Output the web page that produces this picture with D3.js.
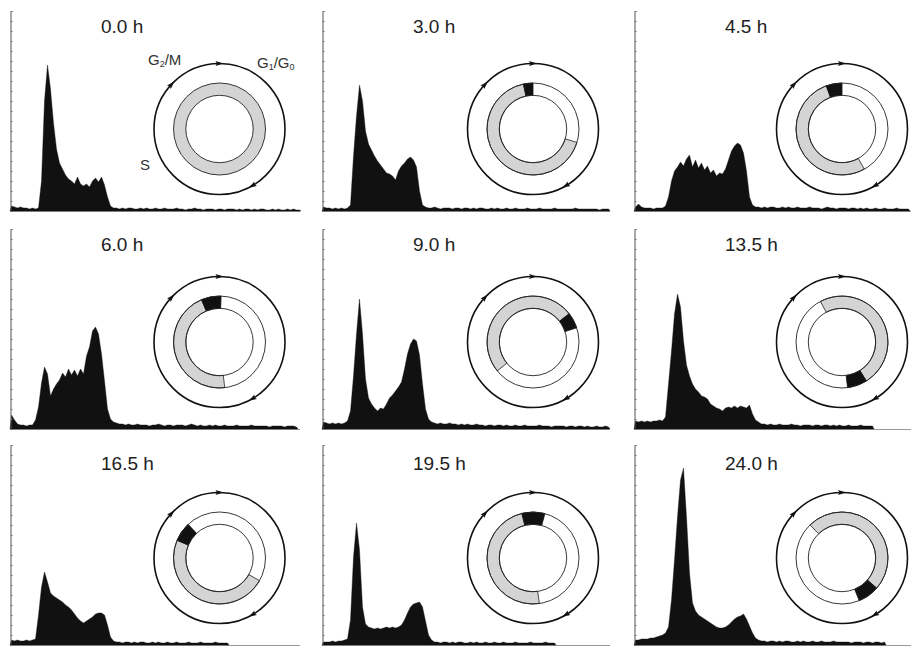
<!DOCTYPE html>
<html>
<head>
<meta charset="utf-8">
<script src="https://cdn.jsdelivr.net/npm/d3@7/dist/d3.min.js"></script>
<style>
  body { margin: 0; background: #fff; }
  svg { display: block; font-family: 'Liberation Sans', Arial, sans-serif; }
</style>
</head>
<body>
<script>
// time points, one panel each
const timeLabels = ['0.0 h', '3.0 h', '4.5 h', '6.0 h', '9.0 h', '13.5 h', '16.5 h', '19.5 h', '24.0 h'];

// DNA content histograms (counts per channel bin)
const hist00 = [5,4,3,4,3,3,2,3,2,3, 30,110,146,122,88,62,48,42,36,32, 30,27,34,27,25,27,24,30,33,29,
  34,26,14,5,3,3,2,3,2,3, 3,2,2,3,2,3,2,2,3,2, 2,3,2,2,2,3,2,2,1,2, 2,3,2,2,1,2,2,2,1,2,
  2,1,2,2,2,1,2,1,2,2, 1,2,1,2,2,1,1,2,1,2, 1,1,2,1,2,1,1];
const hist30 = [4,3,3,2,3,2,3,2,3,6, 55,95,126,110,80,67,61,55,50,46, 42,38,37,35,31,40,45,48,52,54,
  51,44,20,6,4,3,3,4,3,2, 3,3,3,2,3,3,2,3,3,2, 3,2,3,3,2,2,3,2,3,2, 2,3,2,2,3,2,2,2,3,2,
  2,2,3,2,2,2,2,3,2,2, 2,2,2,2,3,2,2,2,2,2, 2,2,1,2,2,2];
const hist45 = [4,7,4,3,3,3,2,3,3,3, 5,14,30,40,44,49,45,52,56,44, 51,43,48,41,45,38,41,35,38,37,
  42,51,60,65,68,66,58,40,14,6, 4,4,3,4,3,4,4,3,3,4, 3,4,3,3,4,3,3,3,4,3, 3,3,2,3,4,3,3,2,3,3,
  3,2,3,3,2,3,2,3,2,2, 3,2,2,3,2,2,2,3,2,2, 2,2];
const hist60 = [14,9,5,4,4,3,4,4,9,22, 46,62,55,33,40,45,49,56,52,60, 54,59,53,60,55,73,82,98,102,95,
  75,48,20,10,7,6,5,5,4,5, 4,4,5,4,4,4,3,4,4,5, 4,3,4,4,3,4,4,4,3,4, 5,4,3,4,3,3,4,3,4,3,
  3,4,3,3,3,4,3,3,3,3, 4,3,3,3,3,3,2,3,3,3, 3,2,3,3,3,2];
const hist90 = [7,6,5,6,5,6,5,6,8,18, 53,95,130,95,50,31,25,21,18,21, 20,25,31,34,38,42,47,60,75,85,
  90,88,74,45,20,10,7,6,5,6, 5,5,6,5,5,4,5,4,5,4, 4,5,4,4,3,4,4,3,4,4, 3,4,3,3,4,3,3,4,3,3,
  3,3,4,3,3,3,2,3,3,3, 3,2,3,3,2,3,3,2,3,2, 2,3,2,2,3,2];
const hist135 = [8,7,8,7,8,7,8,8,9,8, 12,45,78,115,135,122,88,64,53,45, 40,37,33,32,30,25,23,21,20,18,
  21,22,21,23,21,23,22,21,24,15, 9,7,5,5,4,5,4,4,5,4, 4,4,5,4,4,3,4,4,4,3, 4,4,3,4,4,3,4,3,4,3,
  3,4,3,3,3,4,3,3,3,3];
const hist165 = [5,4,5,4,4,5,4,5,6,30, 58,73,63,52,49,47,45,43,40,38, 35,31,27,24,22,24,26,28,31,32,
  32,30,20,8,4,3,3,2,3,3, 2,3,2,3,3,2,2,3,2,3, 2,2,3,2,2,3,2,2,2,3, 2,2,2,3,2,2,2,2,3,2,
  2,2,2];
const hist195 = [3,3,3,4,3,4,4,5,6,25, 88,122,95,38,21,18,17,16,17,16, 17,18,17,18,17,18,20,25,32,38,
  41,42,43,38,24,10,5,3,3,2, 3,3,2,3,2,3,3,2,2,3, 2,3,2,2,3,2,2,3,2,2, 3,2,2,2,3,2,2,2,2,3,
  2,2,2,2,3,2,2,2];
const hist240 = [5,5,6,6,6,7,7,8,9,10, 12,18,45,85,128,165,177,128,72,42, 34,30,28,26,24,22,20,18,17,17,
  18,20,23,26,28,29,31,26,19,12, 7,5,4,4,3,4,4,3,4,3, 4,4,3,3,4,3,4,3,3,4, 3,3,4,3,3,3,4,3,3,3,
  3,3,2,3,3,3,2,3,3,2, 3,3,2,3];
const histograms = [hist00, hist30, hist45, hist60, hist90, hist135, hist165, hist195, hist240];

// cell-cycle rings: degrees clockwise from 12 o'clock
const grayArcs = [[0, 360], [107, 348], [151, 340], [173.5, 337], [231, 412],
  [-28, 148], [119.5, 292.6], [172, 346], [-44, 131]];
const blackArcs = [null, [348, 360], [340, 360], [337, 362], [52, 72],
  [148, 173], [292.6, 317], [346, 375], [131, 158]];
const arrowAngles = [0, 313, 150];

// layout
const W = 911, H = 646;
const colX = [10, 322, 634];
const colRight = [300, 610, 911];
const rowTop = [10, 228, 447];
const rowBase = [211, 429, 645];
const cycleX = [219.5, 533, 842];
const cycleY = [129, 342, 558];
const binW = 3, nBins = 96;
const rOuter = 65.5, ringOut = 46, ringIn = 33.7;

const svg = d3.select('body').append('svg')
    .attr('width', W)
    .attr('height', H);

const arc = d3.arc();
const rad = a => a * Math.PI / 180;

histograms.forEach((counts, k) => {
    const col = k % 3, row = Math.floor(k / 3);
    const g = svg.append('g').classed('panel', true);

    const x = d3.scaleLinear().domain([0, nBins]).range([colX[col], colX[col] + nBins * binW]);
    const y = d3.scaleLinear().domain([0, 200]).range([rowBase[row], rowBase[row] - 200]);

    // baseline
    g.append('line')
        .attr('x1', colX[col]).attr('x2', colRight[col])
        .attr('y1', rowBase[row] + 0.5).attr('y2', rowBase[row] + 0.5)
        .attr('stroke', '#999').attr('stroke-width', 1);

    // histogram
    const pts = [[0, 0]].concat(counts.map((c, i) => [i + 0.5, c]), [[counts.length, 0]]);
    g.append('path')
        .datum(pts)
        .attr('fill', '#111')
        .attr('stroke', '#111')
        .attr('stroke-width', 0.4)
        .attr('d', d3.area()
            .x(d => x(d[0]))
            .y0(y(0))
            .y1(d => y(d[1])));

    // y axis with tiny inner ticks
    const ax = g.append('g')
        .attr('transform', 'translate(' + (colX[col] + 0.5) + ',0)')
        .call(d3.axisLeft(y).tickValues(d3.range(0, 201, 10)).tickSize(-2).tickFormat(''));
    ax.select('.domain').attr('stroke', '#555');
    ax.selectAll('.tick line').attr('stroke', '#777');

    // title
    g.append('text')
        .attr('x', colX[col] + 91)
        .attr('y', rowTop[row] + 23)
        .attr('font-size', '19px')
        .attr('fill', '#222')
        .text(timeLabels[k]);

    // cell-cycle diagram
    const cg = g.append('g')
        .attr('transform', 'translate(' + cycleX[col] + ',' + cycleY[row] + ')');
    cg.append('circle')
        .attr('r', rOuter)
        .attr('fill', 'none')
        .attr('stroke', '#111')
        .attr('stroke-width', 1.6);
    arrowAngles.forEach(a => {
        cg.append('path')
            .attr('d', 'M4,0 L-4,-2.6 L-2.5,0 L-4,2.6 Z')
            .attr('fill', '#111')
            .attr('transform', 'translate(' + (rOuter * Math.sin(rad(a))) + ',' + (-rOuter * Math.cos(rad(a))) + ') rotate(' + a + ')');
    });
    cg.append('path')
        .attr('d', arc({ innerRadius: ringIn, outerRadius: ringOut, startAngle: 0, endAngle: 2 * Math.PI }))
        .attr('fill', '#fff');
    const ga = grayArcs[k];
    cg.append('path')
        .attr('d', arc({ innerRadius: ringIn, outerRadius: ringOut, startAngle: rad(ga[0]), endAngle: rad(ga[1]) }))
        .attr('fill', '#d4d4d4')
        .attr('stroke', ga[1] - ga[0] >= 360 ? 'none' : '#222')
        .attr('stroke-width', 0.8);
    const ba = blackArcs[k];
    if (ba) {
        cg.append('path')
            .attr('d', arc({ innerRadius: ringIn, outerRadius: ringOut, startAngle: rad(ba[0]), endAngle: rad(ba[1]) }))
            .attr('fill', '#111')
            .attr('stroke', '#111')
            .attr('stroke-width', 0.8);
    }
    [ringIn, ringOut].forEach(r => {
        cg.append('circle')
            .attr('r', r)
            .attr('fill', 'none')
            .attr('stroke', '#222')
            .attr('stroke-width', 0.9);
    });
});

// phase labels, first panel only
const lab = svg.append('g')
    .attr('font-size', '15px')
    .attr('fill', '#333');
const g2m = lab.append('text').attr('x', 148).attr('y', 65);
g2m.append('tspan').text('G');
g2m.append('tspan').attr('font-size', '9px').attr('dy', 2).text('2');
g2m.append('tspan').attr('dy', -2).text('/M');
const g1g0 = lab.append('text').attr('x', 257).attr('y', 68);
g1g0.append('tspan').text('G');
g1g0.append('tspan').attr('font-size', '9px').attr('dy', 2).text('1');
g1g0.append('tspan').attr('dy', -2).text('/G');
g1g0.append('tspan').attr('font-size', '9px').attr('dy', 2).text('0');
lab.append('text').attr('x', 140).attr('y', 170).text('S');
</script>
</body>
</html>
